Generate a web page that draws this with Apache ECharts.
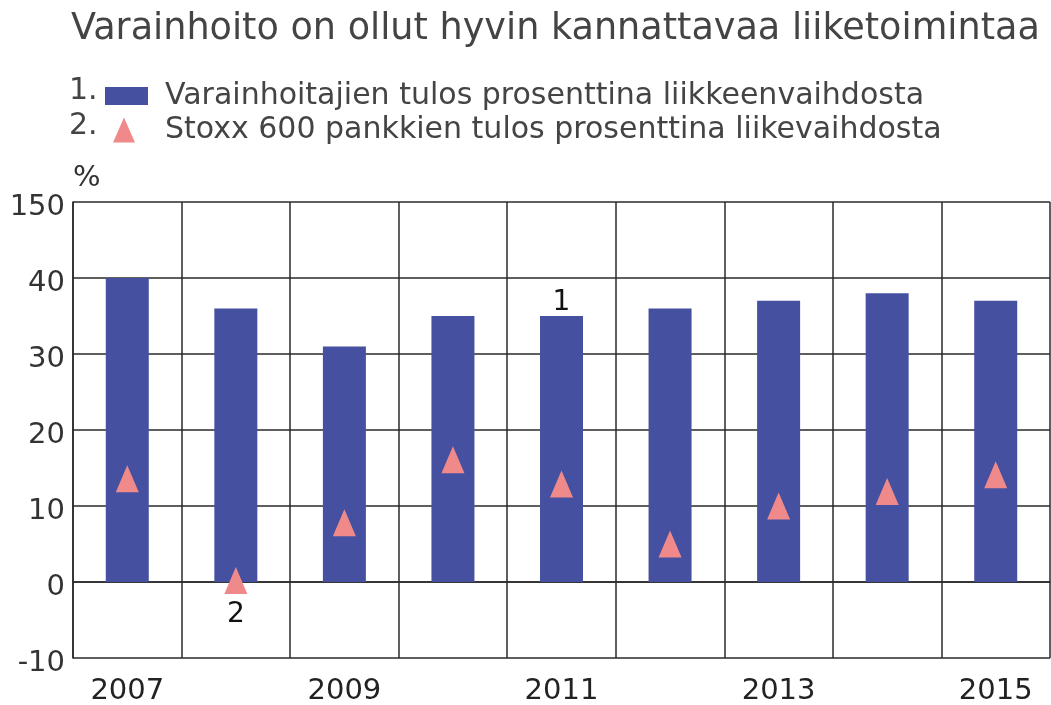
<!DOCTYPE html>
<html>
<head>
<meta charset="utf-8">
<script src="https://cdn.jsdelivr.net/npm/echarts@6/dist/echarts.min.js"></script>
<style>
  html, body { margin: 0; padding: 0; background: #fff; }
  #chart { width: 1051px; height: 705px; }
</style>
</head>
<body>
<div id="chart"></div>
<script>
// data
var years = ['2007', '2008', '2009', '2010', '2011', '2012', '2013', '2014', '2015']
var varainhoitajat = [40, 36, 31, 35, 35, 36, 37, 38, 37]
var stoxxPankit = [13.6, 0.2, 7.8, 16.1, 12.9, 5.0, 10.0, 11.9, 14.1]
var yTicks = { '-10': '-10', '0': '0', '10': '10', '20': '20', '30': '30', '40': '40', '50': '150' }

var name1 = 'Varainhoitajien tulos prosenttina liikkeenvaihdosta'
var name2 = 'Stoxx 600 pankkien tulos prosenttina liikevaihdosta'
var font = 'DejaVu Sans'

var barData = varainhoitajat.map(function (v, i) {
  if (i === 4) {
    return { value: v, label: { show: true, position: 'top', distance: -1, formatter: '1', color: '#111', fontSize: 28, fontFamily: font } }
  }
  return v
})
var triData = stoxxPankit.map(function (v, i) {
  if (i === 1) {
    return { value: v, label: { show: true, position: 'bottom', distance: 7, formatter: '2', color: '#111', fontSize: 28, fontFamily: font } }
  }
  return v
})

var myechart = echarts.init(document.getElementById('chart'))
var config = {
  animation: false,
  textStyle: { fontFamily: font },
  title: {
    text: 'Varainhoito on ollut hyvin kannattavaa liiketoimintaa',
    left: 66, top: 6,
    textStyle: { fontSize: 36.6, fontWeight: 'normal', color: '#444', fontFamily: font }
  },
  graphic: [
    { type: 'text', left: 69, top: 76, style: { text: '1.', fontSize: 30, fill: '#444', fontFamily: font } },
    { type: 'text', left: 69, top: 111, style: { text: '2.', fontSize: 30, fill: '#444', fontFamily: font } }
  ],
  legend: [
    {
      data: [{ name: name1, icon: 'rect' }], left: 100, top: 76, itemWidth: 43, itemHeight: 18,
      selectedMode: false,
      textStyle: { fontSize: 30, color: '#444', fontFamily: font, padding: [0, 0, 0, 12] }
    },
    {
      data: [name2], left: 108, top: 110, itemWidth: 22, itemHeight: 25,
      selectedMode: false,
      textStyle: { fontSize: 30, color: '#444', fontFamily: font, padding: [0, 0, 0, 25] }
    }
  ],
  grid: { left: 73, top: 202, right: 1, bottom: 47, outerBoundsMode: 'none' },
  xAxis: {
    type: 'category',
    data: years,
    boundaryGap: true,
    axisLine: { lineStyle: { color: '#2a2a2a', width: 1.5 } },
    axisTick: { show: false },
    axisLabel: { interval: 1, fontSize: 29, color: '#222', margin: 19, fontFamily: font },
    splitLine: { show: true, interval: 0, lineStyle: { color: '#2a2a2a', width: 1.5 } }
  },
  yAxis: {
    type: 'value',
    min: -10, max: 50, interval: 10,
    name: '%',
    nameLocation: 'end',
    nameGap: 24,
    nameTextStyle: { fontSize: 29, color: '#333', align: 'left', verticalAlign: 'middle', fontFamily: font },
    axisLine: { show: true, lineStyle: { color: '#2a2a2a', width: 1.5 } },
    axisTick: { show: false },
    axisLabel: {
      margin: 8,
      formatter: function (v) { return '{t|' + yTicks[String(v)] + '}' },
      rich: {
        t: { fontSize: 29, color: '#333', fontFamily: font, padding: [10, 0, 0, 0] }
      }
    },
    splitLine: { show: true, lineStyle: { color: '#2a2a2a', width: 1.5 } }
  },
  series: [
    {
      name: name1,
      type: 'bar',
      data: barData,
      barWidth: 43,
      itemStyle: { color: '#4650a0' },
      z: 2
    },
    {
      name: name2,
      type: 'scatter',
      data: triData,
      symbol: 'triangle',
      symbolSize: [23, 27],
      itemStyle: { color: '#f08a8a', opacity: 1 },
      z: 3
    }
  ]
}
myechart.setOption(config)
</script>
</body>
</html>
